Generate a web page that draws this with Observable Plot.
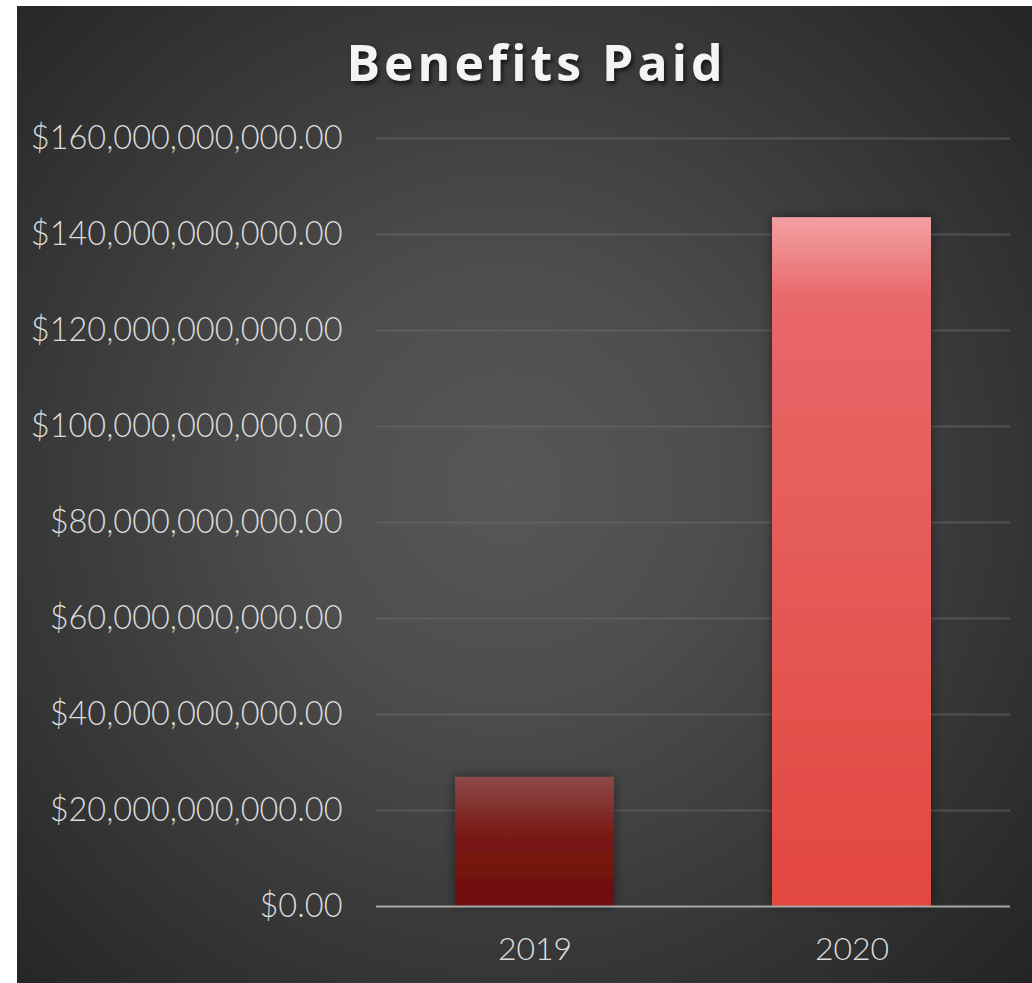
<!DOCTYPE html>
<html>
<head>
<meta charset="utf-8">
<script src="https://cdn.jsdelivr.net/npm/d3@7"></script>
<script src="https://cdn.jsdelivr.net/npm/@observablehq/plot@0.6"></script>
<style>
  html, body { margin: 0; padding: 0; background: #ffffff; }
  #frame {
    position: absolute; left: 17px; top: 6px; width: 1015px; height: 977px;
    background: radial-gradient(circle at 48% 49%, #575757 0%, #4d4d4d 30%, #3c3c3c 58%, #2c2c2c 85%, #242424 100%);
    overflow: hidden;
  }
  #title {
    height: 100px; line-height: 112px; text-align: center;
    font-family: "Open Sans", "DejaVu Sans", sans-serif; font-weight: 700;
    font-size: 50px; letter-spacing: 4px; color: #f4f4f4;
    text-shadow: 2px 3px 4px rgba(0,0,0,0.65);
    padding-left: 24px;
  }
  svg { display: block; }
</style>
</head>
<body>
<div id="frame">
  <div id="title">Benefits Paid</div>
  <div id="chart"></div>
</div>
<script>
const years = ["2019", "2020"];
const benefits = [26.9e9, 143.5e9];
const yTicks = [0, 20e9, 40e9, 60e9, 80e9, 100e9, 120e9, 140e9, 160e9];
const gridTicks = [20e9, 40e9, 60e9, 80e9, 100e9, 120e9, 140e9, 160e9];

const data = years.map((y, i) => ({year: y, value: benefits[i]}));
const fmt = d => "$" + d3.format(",.2f")(d);

const chart = Plot.plot({
  width: 1015,
  height: 877,
  marginTop: 32,
  marginBottom: 77,
  marginLeft: 359,
  marginRight: 22,
  style: {background: "transparent", fontFamily: "Lato, 'Open Sans', sans-serif"},
  x: {domain: years, paddingInner: 0.5, paddingOuter: 0.25, label: null},
  y: {domain: [0, 160e9], label: null},
  marks: [
    Plot.ruleY(gridTicks, {stroke: "#6a6a6a", strokeOpacity: 0.55, strokeWidth: 2}),
    Plot.barY(data.filter(d => d.year === "2019"), {x: "year", y: "value", fill: "url(#g2019)"}),
    Plot.barY(data.filter(d => d.year === "2020"), {x: "year", y: "value", fill: "url(#g2020)"}),
    Plot.ruleY([0], {stroke: "#a8a8a8", strokeWidth: 2}),
    Plot.axisY({ticks: yTicks, tickFormat: fmt, tickSize: 0, tickPadding: 34, fontSize: 32.5, fill: "#dcdcdc", fontWeight: 300}),
    Plot.axisX({tickSize: 0, tickPadding: 31, fontSize: 32, fill: "#dcdcdc", fontWeight: 300})
  ]
});

const defs = `
<defs>
  <linearGradient id="g2019" x1="0" y1="0" x2="0" y2="1">
    <stop offset="0" stop-color="#8c4848"/>
    <stop offset="0.45" stop-color="#7a1a15"/>
    <stop offset="1" stop-color="#6e0c08"/>
  </linearGradient>
  <linearGradient id="g2020" x1="0" y1="0" x2="0" y2="1">
    <stop offset="0" stop-color="#f2a0a2"/>
    <stop offset="0.12" stop-color="#e96769"/>
    <stop offset="0.5" stop-color="#e55a58"/>
    <stop offset="1" stop-color="#e2473f"/>
  </linearGradient>
  <filter id="shadow" x="-20%" y="-20%" width="140%" height="140%">
    <feDropShadow dx="0" dy="0" stdDeviation="6" flood-color="#000" flood-opacity="0.45"/>
  </filter>
</defs>`;
chart.insertAdjacentHTML("afterbegin", defs);
chart.querySelectorAll("rect").forEach(r => r.setAttribute("filter", "url(#shadow)"));
document.getElementById("chart").appendChild(chart);
</script>
</body>
</html>
